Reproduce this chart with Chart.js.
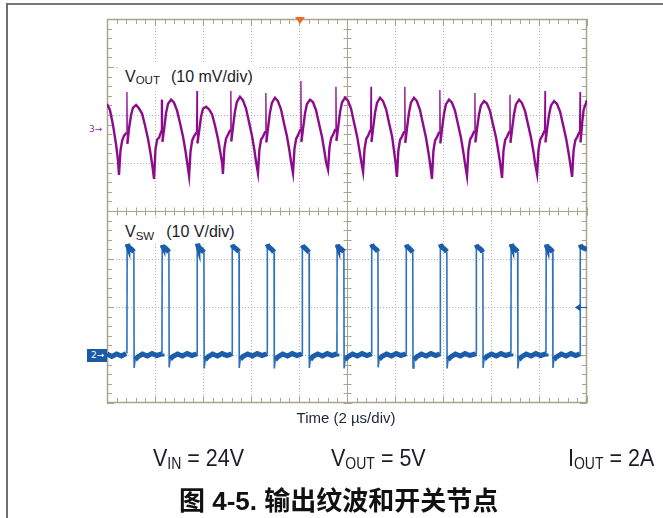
<!DOCTYPE html>
<html><head><meta charset="utf-8">
<script src="https://cdn.jsdelivr.net/npm/chart.js@4.4.1/dist/chart.umd.min.js"></script>
<style>
html,body{margin:0;padding:0;background:#fff;}
#wrap{position:relative;width:663px;height:518px;overflow:hidden;font-family:"Liberation Sans",Arial,sans-serif;}
#c{position:absolute;left:0;top:0;}
.lbl{position:absolute;white-space:nowrap;color:#1c1c28;}
.lbl sub{line-height:0;}
</style></head>
<body>
<div id="wrap">
<canvas id="c" width="663" height="518"></canvas>
<div style="position:absolute;left:6px;top:3px;width:657px;height:2px;background:#787878"></div>
<div style="position:absolute;left:6px;top:3px;width:2px;height:515px;background:#6e6e6e"></div>
<div class="lbl" style="left:118px;top:63.5px;padding:5px 7px 6px 7px;background:#fff;font-size:16px;line-height:16px;">V<sub style="font-size:11.5px;vertical-align:-2px">OUT</sub><span style="margin-left:11px">(10 mV/div)</span></div>
<div class="lbl" style="left:118px;top:218.5px;padding:5px 7px 2px 7px;background:#fff;font-size:16px;line-height:16px;">V<sub style="font-size:11.5px;vertical-align:-2.5px">SW</sub><span style="margin-left:12px">(10 V/div)</span></div>
<div class="lbl" style="left:246px;width:200px;text-align:center;top:410.3px;font-size:15px;line-height:15px;color:#1e2636">Time (2 µs/div)</div>
<div class="lbl" style="left:153px;top:448.8px;font-size:21.5px;line-height:21.5px;transform:scaleY(1.12);transform-origin:0 18.2px">V<sub style="font-size:14px;vertical-align:-3px">IN</sub> = 24V</div>
<div class="lbl" style="left:331px;top:448.8px;font-size:21.5px;line-height:21.5px;transform:scaleY(1.12);transform-origin:0 18.2px">V<sub style="font-size:14px;vertical-align:-3px">OUT</sub> = 5V</div>
<div class="lbl" style="left:568px;top:448.8px;font-size:21.5px;line-height:21.5px;transform:scaleY(1.12);transform-origin:0 18.2px">I<sub style="font-size:14px;vertical-align:-3px">OUT</sub> = 2A</div>
<div class="lbl" style="left:179px;top:488px;font-size:26px;line-height:26px;font-weight:bold;font-family:'Liberation Sans','Noto Sans CJK SC',sans-serif;color:#111">图 4-5. 输出纹波和开关节点</div>
<div id="m3" class="lbl" style="left:89px;font-size:9px;line-height:9px;color:#8c2a8c;font-family:'DejaVu Sans',sans-serif">3→</div>
<div id="m2" class="lbl" style="left:87px;width:16px;height:13px;padding-left:4px;background:#1a5aa8;color:#fff;font-size:9px;line-height:13px;font-family:'DejaVu Sans',sans-serif">2→</div>
</div>
<script>
// ---- Time axis (µs) and grid ----
const timeGridUs = [0, 2, 4, 6, 8, 10, 12, 14, 16, 18, 20];
const voltGridDiv = [-4, -3, -2, -1, 0, 1, 2, 3, 4];

// ---- Channel settings ----
const CH3_OFFSET_DIV = 1.69, CH3_MV_PER_DIV = 10;   // VOUT ripple, 10 mV/div
const CH2_OFFSET_DIV = -3.0, CH2_V_PER_DIV = 10;    // VSW, 10 V/div
const TRIGGER_TIME_US = 8.04;
const TRIGGER_LEVEL_V = 10;

// ---- VOUT ripple (channel 3): time µs, ripple mV ----
const voutTime = [
  0, 0.12, 0.25, 0.38, 0.46,
  0.50,0.56,0.63,0.71,0.81,0.83,0.85,0.92,1.00,1.08,1.21,1.33,1.46,1.58,1.71,1.81,1.88,
  1.96,2.02,2.09,2.17,2.27,2.29,2.31,2.38,2.46,2.54,2.67,2.79,2.92,3.04,3.17,3.27,3.34,
  3.42,3.48,3.55,3.63,3.73,3.75,3.77,3.84,3.92,4.00,4.13,4.25,4.38,4.50,4.63,4.73,4.80,
  4.83,4.89,4.96,5.04,5.14,5.16,5.18,5.25,5.33,5.41,5.54,5.66,5.79,5.91,6.04,6.14,6.21,
  6.29,6.35,6.42,6.50,6.60,6.62,6.64,6.71,6.79,6.87,7.00,7.12,7.25,7.37,7.50,7.60,7.67,
  7.75,7.81,7.88,7.96,8.06,8.08,8.10,8.17,8.25,8.33,8.46,8.58,8.71,8.83,8.96,9.06,9.13,
  9.21,9.27,9.34,9.42,9.52,9.54,9.56,9.63,9.71,9.79,9.92,10.04,10.17,10.29,10.42,10.52,10.59,
  10.67,10.73,10.80,10.88,10.98,11.00,11.02,11.09,11.17,11.25,11.38,11.50,11.63,11.75,11.88,11.96,12.02,
  12.08,12.14,12.21,12.29,12.39,12.41,12.43,12.50,12.58,12.66,12.79,12.91,13.04,13.16,13.29,13.39,13.46,
  13.54,13.60,13.67,13.75,13.85,13.87,13.89,13.96,14.04,14.12,14.25,14.37,14.50,14.62,14.75,14.85,14.92,
  15.00,15.06,15.13,15.21,15.31,15.33,15.35,15.42,15.50,15.58,15.71,15.83,15.96,16.08,16.21,16.31,16.38,
  16.46,16.52,16.59,16.67,16.77,16.79,16.81,16.88,16.96,17.04,17.17,17.29,17.42,17.54,17.67,17.77,17.84,
  17.92,17.98,18.05,18.13,18.23,18.25,18.27,18.34,18.42,18.50,18.63,18.75,18.88,19.00,19.13,19.23,19.30,
  19.38,19.44,19.51,19.59,19.69,19.71,19.73,19.80,19.86,20.00
];
const voutMv = [
  5.4, 4.2, 1.0, -3.1, -6.5,
  -9.4,-4.4,-2.3,-1.2,-0.6,7.9,-2.9,0.4,3.0,4.6,5.2,4.5,3.4,1.0,-1.9,-4.8,-7.1,
  -10.2,-4.0,-2.0,-1.6,-0.2,6.3,-2.5,0.2,3.5,5.4,6.3,5.7,4.0,1.5,-1.5,-4.4,-6.8,
  -9.6,-4.5,-2.2,-1.3,-0.5,9.0,-2.8,-0.2,2.8,4.4,4.8,4.3,3.2,0.9,-2.0,-4.9,-7.0,
  -9.2,-3.9,-1.8,-1.0,0.0,8.8,-2.4,0.6,3.8,5.8,6.9,6.2,4.5,1.8,-1.2,-4.2,-6.6,
  -9.0,-4.1,-2.0,-1.4,-0.3,7.7,-2.6,0.4,3.6,5.6,6.7,6.0,4.3,1.5,-1.4,-4.3,-6.7,
  -9.0,-4.0,-1.9,-1.1,0.1,10.2,-2.5,0.3,3.4,5.4,6.3,5.8,4.1,1.4,-1.5,-4.5,-6.8,
  -8.3,-3.7,-1.7,-1.0,0.2,9.0,-2.3,0.5,3.7,5.7,6.7,6.1,4.4,1.6,-1.3,-4.3,-6.5,
  -8.75,-4.0,-1.9,-1.2,0.0,9.0,-2.5,0.4,3.6,5.6,6.7,6.0,4.3,1.5,-1.4,-4.4,-6.7,
  -9.8,-4.3,-2.1,-1.4,-0.3,9.0,-2.7,0.3,3.5,5.6,6.7,6.0,4.2,1.4,-1.6,-4.6,-7.0,
  -10.2,-4.4,-2.2,-1.5,-0.4,8.3,-2.8,0.2,3.3,5.3,6.3,5.7,4.0,1.3,-1.7,-4.7,-7.1,
  -9.6,-4.2,-2.0,-1.3,-0.2,7.7,-2.6,0.3,3.2,5.1,6.0,5.5,3.9,1.2,-1.6,-4.6,-6.9,
  -10.0,-4.3,-2.1,-1.4,-0.3,7.3,-2.7,0.2,3.3,5.3,6.3,5.6,3.9,1.2,-1.7,-4.6,-7.0,
  -9.2,-4.1,-2.0,-1.3,-0.2,8.1,-2.6,0.3,3.2,5.1,6.0,5.4,3.8,1.1,-1.8,-4.7,-7.0,
  -9.8,-4.3,-2.2,-1.5,-0.4,7.9,-2.6,1.5,4.2,6.2
];

// ---- Switch node (channel 2): time µs, volts ----
const vswTime = [
  0,0.20,0.40,0.60,0.80,
  0.83,0.84,0.87,0.95,1.05,1.12,1.13,1.17,1.28,1.48,1.68,1.88,2.08,2.26,
  2.29,2.30,2.33,2.41,2.51,2.58,2.59,2.63,2.74,2.94,3.14,3.34,3.54,3.72,
  3.75,3.76,3.79,3.87,3.97,4.04,4.05,4.09,4.20,4.40,4.60,4.80,5.00,5.18,
  5.21,5.22,5.25,5.33,5.43,5.50,5.51,5.55,5.66,5.86,6.06,6.26,6.46,6.64,
  6.67,6.68,6.71,6.79,6.89,6.96,6.97,7.01,7.12,7.32,7.52,7.72,7.92,8.10,
  8.13,8.14,8.17,8.25,8.35,8.42,8.43,8.47,8.58,8.78,8.98,9.18,9.38,9.55,
  9.58,9.59,9.62,9.70,9.80,9.87,9.88,9.92,10.03,10.23,10.43,10.63,10.83,10.99,
  11.02,11.03,11.06,11.14,11.24,11.29,11.30,11.34,11.45,11.65,11.85,12.05,12.25,12.43,
  12.46,12.47,12.50,12.58,12.68,12.74,12.75,12.79,12.90,13.10,13.30,13.50,13.70,13.85,
  13.88,13.89,13.92,14.00,14.10,14.16,14.17,14.21,14.32,14.52,14.72,14.92,15.12,15.35,
  15.38,15.39,15.42,15.50,15.60,15.66,15.67,15.71,15.82,16.02,16.22,16.42,16.62,16.80,
  16.83,16.84,16.87,16.95,17.05,17.11,17.12,17.16,17.27,17.47,17.67,17.87,18.07,18.26,
  18.29,18.30,18.33,18.41,18.51,18.57,18.58,18.62,18.73,18.93,19.13,19.33,19.53,19.68,
  19.71,19.72,19.75,19.85,20.00
];
const vswVolt = [
  0.2,-0.3,0.2,-0.2,0.3,
  0.3,23.1,22.7,22.3,21.9,21.5,-2.7,-1.0,-0.4,0.2,-0.2,0.3,-0.1,0.2,
  0.3,22.9,22.6,22.4,21.9,21.4,-2.6,-0.9,-0.3,0.2,-0.2,0.3,-0.1,0.2,
  0.3,23.2,22.7,22.3,21.8,21.4,-2.8,-1.0,-0.4,0.2,-0.2,0.3,-0.1,0.2,
  0.3,23.0,22.6,22.3,21.9,21.5,-2.7,-0.9,-0.3,0.2,-0.2,0.3,-0.1,0.2,
  0.3,23.1,22.7,22.3,21.9,21.4,-2.8,-1.0,-0.4,0.2,-0.2,0.3,-0.1,0.2,
  0.3,22.9,22.6,22.3,21.8,21.4,-2.7,-1.0,-0.3,0.2,-0.2,0.3,-0.1,0.2,
  0.3,23.0,22.6,22.3,21.9,21.5,-2.8,-1.0,-0.4,0.2,-0.2,0.3,-0.1,0.2,
  0.3,23.1,22.7,22.3,21.9,21.5,-2.6,-0.9,-0.3,0.2,-0.2,0.3,-0.1,0.2,
  0.3,23.0,22.6,22.3,21.8,21.4,-2.7,-1.0,-0.4,0.2,-0.2,0.3,-0.1,0.2,
  0.3,23.1,22.7,22.3,21.9,21.5,-2.8,-1.0,-0.4,0.2,-0.2,0.3,-0.1,0.2,
  0.3,23.0,22.6,22.3,21.9,21.4,-2.7,-0.9,-0.3,0.2,-0.2,0.3,-0.1,0.2,
  0.3,23.1,22.7,22.3,21.9,21.5,-2.8,-1.0,-0.4,0.2,-0.2,0.3,-0.1,0.2,
  0.3,23.0,22.6,22.3,21.9,21.4,-2.7,-1.0,-0.4,0.2,-0.2,0.3,-0.1,0.2,
  0.3,23.0,22.6,22.3,22.0
];

const voutData = voutTime.map((t, i) => ({x: t, y: CH3_OFFSET_DIV + voutMv[i] / CH3_MV_PER_DIV}));
const vswData = vswTime.map((t, i) => ({x: t, y: CH2_OFFSET_DIV + vswVolt[i] / CH2_V_PER_DIV}));

const GRID_COLOR = '#a9a58c';
const scopeGrid = {
  id: 'scopeGrid',
  beforeDatasetsDraw(chart) {
    const ctx = chart.ctx, a = chart.chartArea, xs = chart.scales.x, ys = chart.scales.y;
    const px = v => Math.round(xs.getPixelForValue(v)) + 0.5;
    const py = v => Math.round(ys.getPixelForValue(v)) + 0.5;
    const line = (x1, y1, x2, y2) => { ctx.beginPath(); ctx.moveTo(x1, y1); ctx.lineTo(x2, y2); ctx.stroke(); };
    ctx.save();
    ctx.lineWidth = 1;
    ctx.strokeStyle = '#b4b4b4';
    ctx.setLineDash([1, 2]);
    const tMin = timeGridUs[0], tMax = timeGridUs[timeGridUs.length - 1], tMid = (tMin + tMax) / 2;
    const vMin = voltGridDiv[0], vMax = voltGridDiv[voltGridDiv.length - 1];
    timeGridUs.forEach(t => { if (t > tMin && t < tMax && t !== tMid) line(px(t), a.top, px(t), a.bottom); });
    voltGridDiv.forEach(v => { if (v > vMin && v < vMax && v !== 0) line(a.left, py(v), a.right, py(v)); });
    ctx.setLineDash([]);
    ctx.strokeStyle = GRID_COLOR;
    const cx = px(tMid), cy = py(0);
    line(cx, a.top, cx, a.bottom);
    line(a.left, cy, a.right, cy);
    // minor ticks: 5 per division
    const divUs = timeGridUs[1] - timeGridUs[0];
    for (let i = 0; i <= (tMax - tMin) / divUs * 5; i++) {
      const x = px(tMin + i * divUs / 5);
      const L = (i % 5 === 0) ? 7 : 5;
      line(x, a.top, x, a.top + L);
      line(x, a.bottom, x, a.bottom - L);
      line(x, cy - 4, x, cy + 4);
    }
    for (let j = 0; j <= (vMax - vMin) * 5; j++) {
      const y = py(vMin + j / 5);
      const L = (j % 5 === 0) ? 7 : 5;
      line(a.left, y, a.left + L, y);
      line(a.right, y, a.right - L, y);
      line(cx - 4, y, cx + 4, y);
    }
    ctx.lineWidth = 1.5;
    ctx.strokeRect(a.left + 0.5, a.top + 0.5, a.right - a.left - 1, a.bottom - a.top - 1);
    ctx.restore();
  },
  afterDatasetsDraw(chart) {
    const ctx = chart.ctx, a = chart.chartArea, xs = chart.scales.x, ys = chart.scales.y;
    ctx.save();
    // trigger position marker
    const tx = xs.getPixelForValue(TRIGGER_TIME_US);
    ctx.fillStyle = '#f26a21';
    ctx.beginPath(); ctx.moveTo(tx - 5, a.top - 2); ctx.lineTo(tx + 5, a.top - 2); ctx.lineTo(tx, a.top + 5); ctx.closePath(); ctx.fill();
    // trigger level arrow
    const ly = Math.round(ys.getPixelForValue(CH2_OFFSET_DIV + TRIGGER_LEVEL_V / CH2_V_PER_DIV)) + 0.5;
    ctx.strokeStyle = '#1a5aa8'; ctx.fillStyle = '#1a5aa8'; ctx.lineWidth = 1.2;
    ctx.beginPath(); ctx.moveTo(a.right - 10, ly); ctx.lineTo(a.right, ly); ctx.stroke();
    ctx.beginPath(); ctx.moveTo(a.right - 12, ly); ctx.lineTo(a.right - 7, ly - 3.5); ctx.lineTo(a.right - 7, ly + 3.5); ctx.closePath(); ctx.fill();
    ctx.restore();
  }
};

const chart = new Chart(document.getElementById('c'), {
  type: 'line',
  data: {
    datasets: [
      {
        label: 'VOUT', data: voutData, borderColor: '#8c0c8c', borderWidth: 2.4,
        pointRadius: 0, tension: 0, fill: false,
        segment: {
          borderWidth: c => Math.abs(c.p1.parsed.y - c.p0.parsed.y) > 0.7 ? 1.3 : 2.4
        }
      },
      {
        label: 'VSW', data: vswData, borderColor: '#1b5cab', borderWidth: 5,
        pointRadius: 0, tension: 0, fill: false,
        segment: {
          borderWidth: c => Math.abs(c.p1.parsed.y - c.p0.parsed.y) > 0.15 ? 1.6 : 5,
          borderColor: c => Math.abs(c.p1.parsed.y - c.p0.parsed.y) > 0.15 ? '#2d72bf' : '#1b5cab'
        }
      }
    ]
  },
  options: {
    responsive: false, animation: false, devicePixelRatio: 1,
    layout: { padding: { left: 107, top: 19, right: 76, bottom: 115 } },
    plugins: { legend: { display: false }, tooltip: { enabled: false } },
    scales: {
      x: { type: 'linear', min: timeGridUs[0], max: timeGridUs[timeGridUs.length - 1], display: false },
      y: { type: 'linear', min: voltGridDiv[0], max: voltGridDiv[voltGridDiv.length - 1], display: false }
    }
  },
  plugins: [scopeGrid]
});

// channel ground markers positioned from the scale
const ysc = chart.scales.y;
const y3 = ysc.getPixelForValue(CH3_OFFSET_DIV);
const y2 = ysc.getPixelForValue(CH2_OFFSET_DIV);
document.getElementById('m3').style.top = (y3 - 5) + 'px';
document.getElementById('m2').style.top = (y2 - 6.5) + 'px';
</script>
</body></html>
